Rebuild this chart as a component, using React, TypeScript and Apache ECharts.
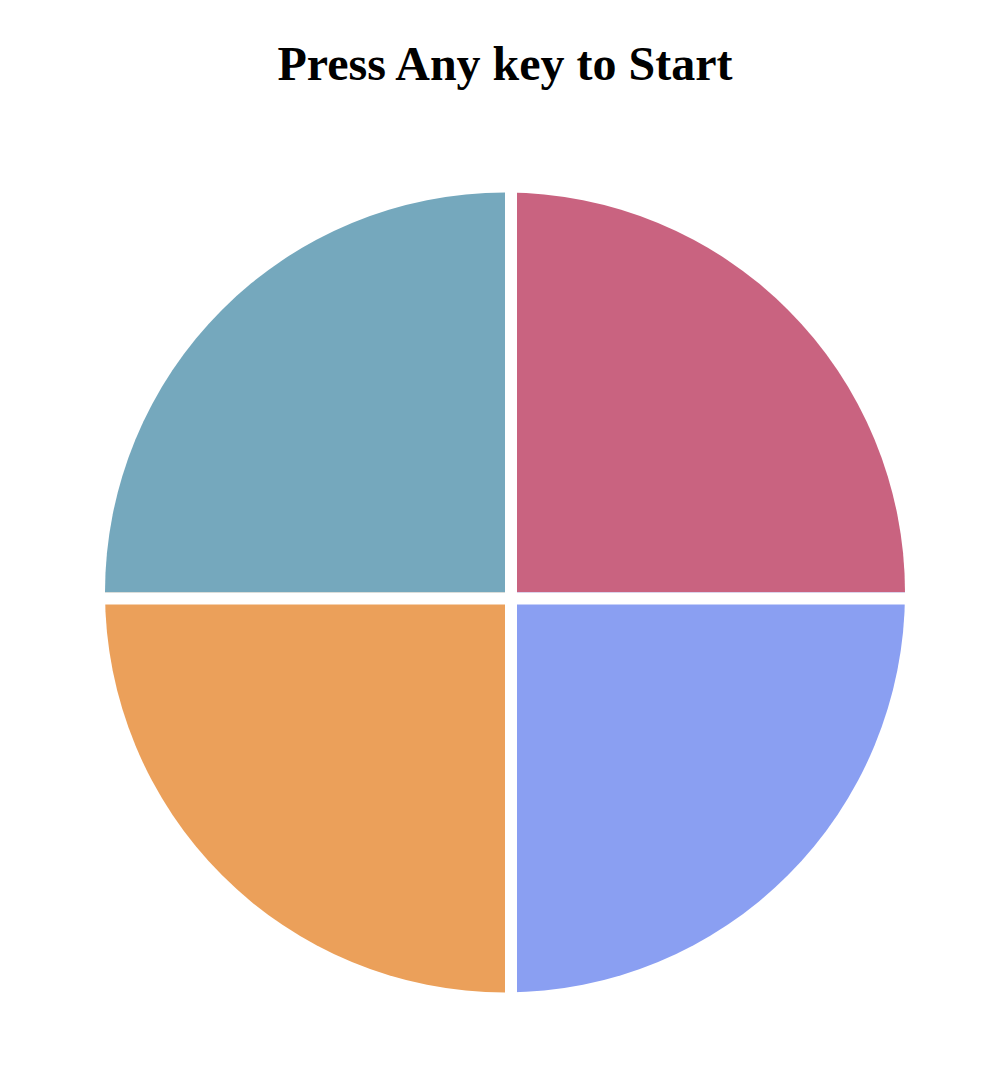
import React, { useEffect, useRef } from "react";
import * as echarts from "echarts";

const sliceNames = ["Top Right", "Bottom Right", "Bottom Left", "Top Left"];
const sliceValues = [1, 1, 1, 1];
const sliceColors = ["#c96380", "#8a9ff2", "#eba05a", "#75a8bd"];
const titleText = "Press Any key to Start";

export default function App() {
  const ref = useRef<HTMLDivElement>(null);
  useEffect(() => {
    if (!ref.current) return;
    const chart = echarts.init(ref.current, undefined, { renderer: "svg" });
    chart.setOption({
      animation: false,
      backgroundColor: "#ffffff",
      title: {
        text: titleText,
        left: 505,
        top: 39,
        padding: 0,
        textAlign: "center",
        textStyle: {
          fontFamily: "'Liberation Serif', 'Times New Roman', serif",
          fontWeight: "bold",
          fontSize: 48,
          color: "#000000",
        },
      },
      series: [
        {
          type: "pie",
          center: [505, 592.5],
          radius: [0, 400],
          startAngle: 90,
          clockwise: true,
          label: { show: false },
          labelLine: { show: false },
          emphasis: { disabled: true },
          itemStyle: { borderWidth: 0 },
          data: sliceNames.map((n, i) => ({
            name: n,
            value: sliceValues[i],
            itemStyle: { color: sliceColors[i] },
          })),
        },
      ],
      graphic: [
        {
          type: "rect",
          z: 100,
          shape: { x: 505, y: 180, width: 12, height: 830 },
          style: { fill: "#ffffff" },
        },
        {
          type: "rect",
          z: 100,
          shape: { x: 90, y: 592.5, width: 830, height: 12 },
          style: { fill: "#ffffff" },
        },
      ],
    });
    return () => chart.dispose();
  }, []);
  return (
    <div
      ref={ref}
      style={{ position: "fixed", left: 0, top: 0, width: 990, height: 1068 }}
    />
  );
}
